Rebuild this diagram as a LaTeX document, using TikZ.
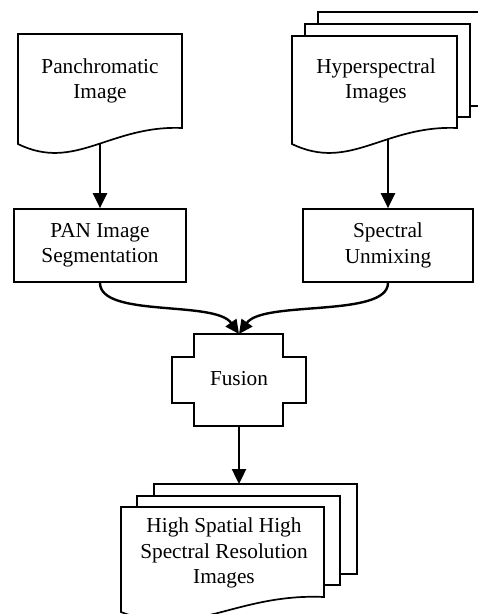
\documentclass[tikz,border=0pt]{standalone}
\usepackage{fontspec}
\setmainfont{Liberation Serif}
\usetikzlibrary{arrows.meta}
\begin{document}
\begin{tikzpicture}[x=1pt,y=-1pt,
  outline/.style={line width=1.7pt, fill=white, line join=miter},
  conn/.style={line width=2.4pt, -{Triangle[length=15pt,width=14pt]}},
  cconn/.style={line width=2.4pt, -{Triangle[length=14pt,width=13pt]}},
  lbl/.style={align=center, inner sep=0pt, font=\fontsize{21.3}{25.5}\selectfont},
  procbox/.style={lbl, draw, line width=1.7pt, minimum height=73pt}]
\useasboundingbox (0,0) rectangle (478,614);
\clip (0,0) rectangle (478,614);

% Panchromatic image (document)
\draw[outline] (18,144) -- (18,34) -- (182,34) -- (182,128)
  .. controls (110,125) and (75,172) .. (18,144) -- cycle;
\node[lbl] (pan) at (100,81) {Panchromatic\\Image};
\coordinate (panout) at (100,144);

% Hyperspectral images (multi-document)
\draw[outline] (318,12) rectangle (483,106);
\draw[outline] (305,24) rectangle (470,117);
\draw[outline] (292,144) -- (292,36) -- (457,36) -- (457,128)
  .. controls (384,125) and (350,172) .. (292,144) -- cycle;
\node[lbl] (hs) at (376,81) {Hyperspectral\\Images};
\coordinate (hsout) at (388,140);

% Process boxes
\node[procbox, minimum width=172pt] (seg) at (100,245.5) {PAN Image\\Segmentation};
\node[procbox, minimum width=170pt] (unmix) at (388,245.5) {Spectral\\Unmixing};

% Fusion
\draw[outline] (194,334) -- (283,334) -- (283,357) -- (306,357) -- (306,403)
  -- (283,403) -- (283,426) -- (194,426) -- (194,403) -- (172,403)
  -- (172,357) -- (194,357) -- cycle;
\node[lbl] (fus) at (239,379) {Fusion};
\coordinate (fustop) at (239,334);
\coordinate (fusbot) at (239,426);

% Output multi-document
\draw[outline] (154,484) rectangle (357,574);
\draw[outline] (137,496) rectangle (340,585);
\draw[outline] (121,612) -- (121,507) -- (324,507) -- (324,597)
  .. controls (235,593) and (192,640) .. (121,612) -- cycle;
\node[lbl] (out) at (224,553) {High Spatial High\\Spectral Resolution\\Images};
\coordinate (outtop) at (239,484);

% Connectors
\draw[conn] (panout) -- (seg.north);
\draw[conn] (hsout) -- (unmix.north);
\draw[cconn] (seg.south) .. controls (100,318) and (215,300) .. (fustop);
\draw[cconn] (unmix.south) .. controls (388,318) and (263,300) .. (fustop);
\draw[conn] (fusbot) -- (outtop);
\end{tikzpicture}
\end{document}
